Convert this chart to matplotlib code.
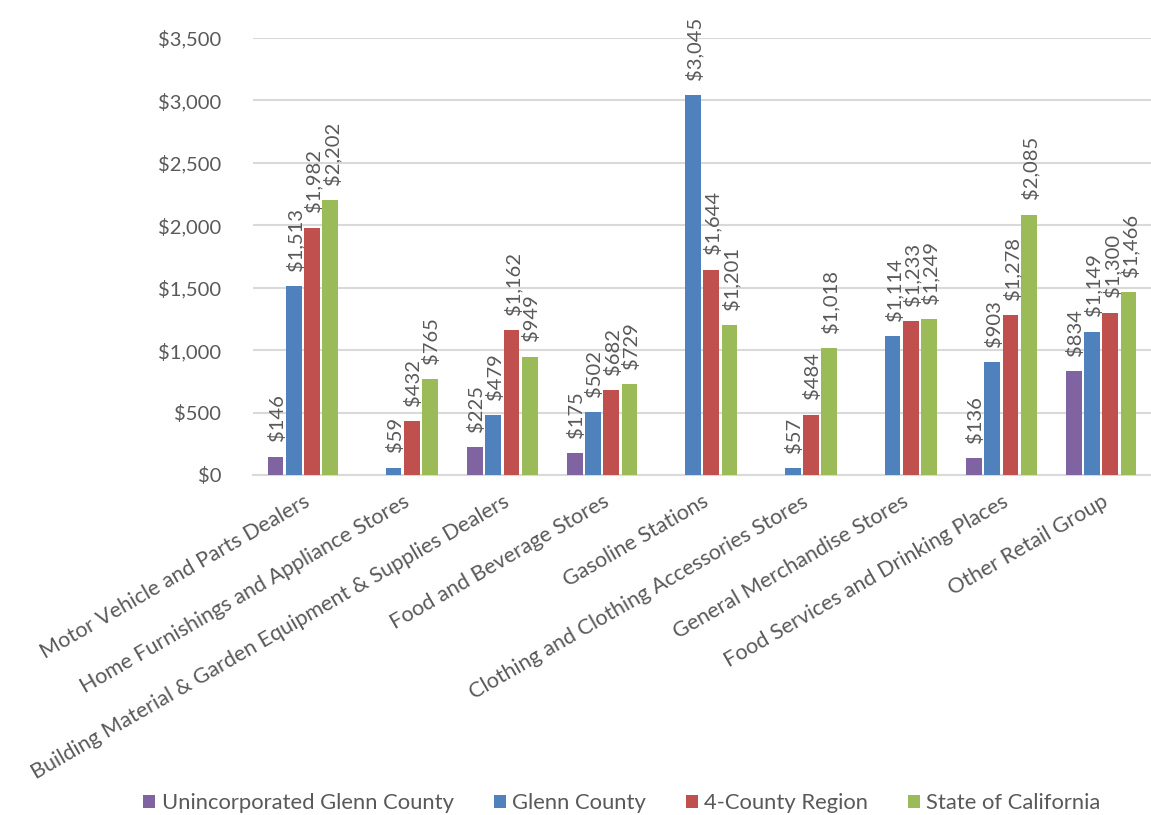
import numpy as np
import matplotlib
matplotlib.use("Agg")
import matplotlib.pyplot as plt
from matplotlib.ticker import FuncFormatter

categories = [
    "Motor Vehicle and Parts Dealers",
    "Home Furnishings and Appliance Stores",
    "Building Material & Garden Equipment & Supplies Dealers",
    "Food and Beverage Stores",
    "Gasoline Stations",
    "Clothing and Clothing Accessories Stores",
    "General Merchandise Stores",
    "Food Services and Drinking Places",
    "Other Retail Group",
]
series_names = ["Unincorporated Glenn County", "Glenn County", "4-County Region", "State of California"]
unincorporated = [146, np.nan, 225, 175, np.nan, np.nan, np.nan, 136, 834]
glenn = [1513, 59, 479, 502, 3045, 57, 1114, 903, 1149]
four_county = [1982, 432, 1162, 682, 1644, 484, 1233, 1278, 1300]
california = [2202, 765, 949, 729, 1201, 1018, 1249, 2085, 1466]
colors = ["#8064A2", "#4F81BD", "#C0504D", "#9BBB59"]
yticks = [0, 500, 1000, 1500, 2000, 2500, 3000, 3500]

plt.rcParams['font.family'] = ['Lato', 'DejaVu Sans']
text_color = "#595959"

W, H = 1151, 815
fig = plt.figure(figsize=(W / 100, H / 100), dpi=100)
ax = fig.add_axes([253 / W, 1 - 475 / H, 898 / W, (475 - 38) / H])

x = np.arange(len(categories))
step = 0.183
width = 0.158
all_series = [unincorporated, glenn, four_county, california]
for i, (vals, name, col) in enumerate(zip(all_series, series_names, colors)):
    vals = np.array(vals, dtype=float)
    pos = x + (i - 1.5) * step
    ax.bar(pos, vals, width=width, color=col, label=name, zorder=3)
    for p, v in zip(pos, vals):
        if np.isnan(v):
            continue
        ax.annotate(f"${v:,.0f}", xy=(p, v), xytext=(1, 11), textcoords="offset points",
                    rotation=90, ha="center", va="bottom",
                    fontsize=14.5, color=text_color, annotation_clip=False, zorder=4)

ax.set_xlim(-0.5, len(categories) - 0.5)
ax.set_ylim(0, 3500)
ax.set_yticks(yticks)
ax.yaxis.set_major_formatter(FuncFormatter(lambda v, p: f"${v:,.0f}"))
ax.grid(axis="y", color="#D9D9D9", linewidth=1.5, zorder=0)
ax.set_axisbelow(True)
for s in ["top", "right", "left"]:
    ax.spines[s].set_visible(False)
ax.spines["bottom"].set_color("#D9D9D9")
ax.spines["bottom"].set_linewidth(1.5)
ax.tick_params(axis="both", length=0, colors=text_color)
ax.tick_params(axis="y", pad=23, labelsize=14.5)
ax.set_xticks(x)
ax.set_xticklabels(categories, rotation=30, ha="right", rotation_mode="anchor",
                   fontsize=15.5, color=text_color)
ax.tick_params(axis="x", pad=12)

handles, labels = ax.get_legend_handles_labels()
fig.legend(handles, labels, loc="center", bbox_to_anchor=(622 / W, 1 - 803 / H),
           ncol=4, frameon=False, fontsize=15.8, labelcolor=text_color,
           handlelength=0.55, handleheight=0.55, handletextpad=0.3, columnspacing=1.8)

fig.savefig("out.png", dpi=100)
